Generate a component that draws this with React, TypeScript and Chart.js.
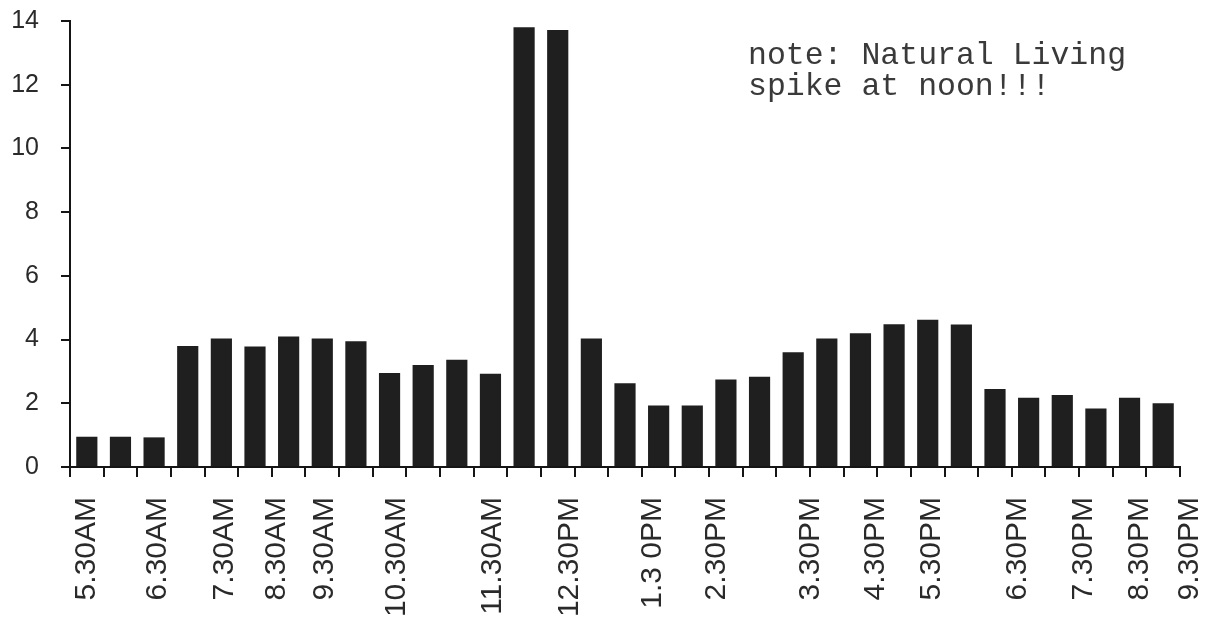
import React, { useEffect, useRef } from "react";
import { Chart, registerables } from "chart.js";

Chart.register(...registerables);

// half-hour slots, one bar each
const slots = [
  "5.30AM", "6.00AM", "6.30AM", "7.00AM", "7.30AM", "8.00AM", "8.30AM", "9.00AM",
  "9.30AM", "10.00AM", "10.30AM", "11.00AM", "11.30AM", "12.00PM", "12.30PM",
  "1.00PM", "1.30PM", "2.00PM", "2.30PM", "3.00PM", "3.30PM", "4.00PM", "4.30PM",
  "5.00PM", "5.30PM", "6.00PM", "6.30PM", "7.00PM", "7.30PM", "8.00PM", "8.30PM",
  "9.00PM", "9.30PM",
];

const counts = [
  0.95, 0.95, 0.93, 3.8, 4.03, 3.78, 4.1, 4.03, 3.95, 2.95, 3.2, 3.37, 2.93,
  13.8, 13.72, 4.03, 2.63, 1.93, 1.93, 2.75, 2.83, 3.6, 4.03, 4.2, 4.48, 4.62,
  4.47, 2.45, 2.17, 2.26, 1.84, 2.17, 2.0,
];

// printed tick labels and where they sit (in slot units)
const tickLabels = [
  "5.30AM", "6.30AM", "7.30AM", "8.30AM", "9.30AM", "10.30AM", "11.30AM",
  "12.30PM", "1.3 0PM", "2.30PM", "3.30PM", "4.30PM", "5.30PM", "6.30PM",
  "7.30PM", "8.30PM", "9.30PM",
];
const tickPositions = [
  0, 2.12, 4.11, 5.65, 7.08, 9.22, 12.07, 14.36, 16.83, 18.73, 21.53, 23.46,
  25.12, 27.68, 29.64, 31.31, 32.79,
];

const yTicks = [0, 2, 4, 6, 8, 10, 12, 14];

const noteLines = ["note: Natural Living", "spike at noon!!!"];

export default function App() {
  const canvasRef = useRef<HTMLCanvasElement | null>(null);

  useEffect(() => {
    if (!canvasRef.current) return;
    const chart = new Chart(canvasRef.current, {
      type: "bar",
      data: {
        labels: slots,
        datasets: [
          {
            data: counts,
            backgroundColor: "#1f1f1f",
            borderWidth: 0,
            barPercentage: 0.63,
            categoryPercentage: 1,
            xAxisID: "x",
            yAxisID: "y",
          },
        ],
      },
      options: {
        animation: false,
        responsive: true,
        maintainAspectRatio: false,
        layout: { padding: { top: 21, right: 37, bottom: 0, left: 0 } },
        plugins: {
          legend: { display: false },
          tooltip: { enabled: false },
          title: { display: false },
        },
        scales: {
          x: {
            type: "category",
            position: "bottom",
            weight: 0,
            offset: true,
            grid: {
              offset: true,
              drawOnChartArea: false,
              drawTicks: true,
              tickLength: 10,
              color: "#151515",
              lineWidth: 2,
            },
            border: { display: true, color: "#151515", width: 2 },
            ticks: { display: false },
          },
          xt: {
            type: "linear",
            position: "bottom",
            weight: 1,
            offset: false,
            min: -0.5,
            max: slots.length - 0.5,
            grid: { display: false, drawTicks: false, offset: false },
            border: { display: false },
            afterBuildTicks: (scale: any) => {
              scale.ticks = tickPositions.map((v) => ({ value: v }));
            },
            afterFit: (scale: any) => {
              scale.height = 145;
              scale.paddingLeft = 0;
              scale.paddingRight = 0;
            },
            ticks: {
              autoSkip: false,
              maxRotation: 90,
              minRotation: 90,
              padding: 20,
              color: "#2a2a2a",
              font: { family: "'Liberation Sans', Arial, sans-serif", size: 30 },
              callback: (_v: any, i: number) => tickLabels[i],
            },
          },
          y: {
            type: "linear",
            position: "left",
            min: 0,
            max: 14,
            afterBuildTicks: (scale: any) => {
              scale.ticks = yTicks.map((v) => ({ value: v }));
            },
            afterFit: (scale: any) => {
              scale.width = 70;
              scale.paddingTop = 0;
              scale.paddingBottom = 0;
            },
            grid: {
              drawOnChartArea: false,
              drawTicks: true,
              tickLength: 9,
              color: "#151515",
              lineWidth: 2,
            },
            border: { display: true, color: "#151515", width: 2 },
            ticks: {
              padding: 22,
              color: "#2a2a2a",
              font: { family: "'Liberation Sans', Arial, sans-serif", size: 25 },
            },
          },
        },
      },
    });
    return () => chart.destroy();
  }, []);

  return (
    <div
      style={{
        position: "fixed",
        left: 0,
        top: 0,
        width: 1217,
        height: 622,
        background: "#ffffff",
      }}
    >
      <canvas ref={canvasRef} />
      <div
        style={{
          position: "absolute",
          left: 748,
          top: 40,
          fontFamily: "'Liberation Mono', 'DejaVu Sans Mono', monospace",
          fontSize: 31.5,
          lineHeight: "31px",
          color: "#3a3a3a",
          whiteSpace: "pre",
        }}
      >
        {noteLines.map((l, i) => (
          <div key={i}>{l}</div>
        ))}
      </div>
    </div>
  );
}
